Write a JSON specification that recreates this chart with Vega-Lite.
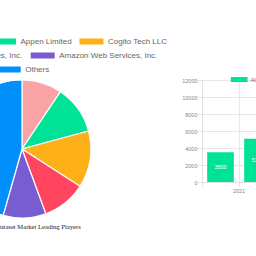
{
  "$schema": "https://vega.github.io/schema/vega-lite/v6.json",
  "autosize": {"type": "none"},
  "padding": {"left": 0, "top": 80, "right": 256, "bottom": 176},
  "background": "white",
  "config": {"view": {"stroke": null}},
  "bounds": "flush",
  "spacing": 158,
  "resolve": {"scale": {"color": "independent"}, "legend": {"color": "independent"}},
  "hconcat": [
    {
      "width": 44,
      "height": 138,
      "title": {"text": "AI Training Dataset Market Leading Players", "orient": "bottom", "frame": "group", "anchor": "middle", "font": "Liberation Serif", "fontSize": 6.6, "fontWeight": "normal", "color": "#222", "offset": 4},
      "data": {"values": [
        {"company": "Microsoft Corporation", "share": 9.4, "idx": 1},
        {"company": "Appen Limited", "share": 11.4, "idx": 2},
        {"company": "Cogito Tech LLC", "share": 13.3, "idx": 3},
        {"company": "Lionbridge Technologies, Inc.", "share": 10.3, "idx": 4},
        {"company": "Amazon Web Services, Inc.", "share": 10.0, "idx": 5},
        {"company": "Others", "share": 45.6, "idx": 6}
      ]},
      "resolve": {"scale": {"color": "independent"}, "legend": {"color": "independent"}},
      "layer": [
        {
          "mark": {"type": "arc", "outerRadius": 69, "stroke": "white", "strokeWidth": 1.2},
          "encoding": {
            "theta": {"field": "share", "type": "quantitative", "stack": true},
            "order": {"field": "idx", "type": "quantitative"},
            "color": {"field": "company", "type": "nominal",
              "scale": {"domain": ["Microsoft Corporation", "Appen Limited", "Cogito Tech LLC", "Lionbridge Technologies, Inc.", "Amazon Web Services, Inc.", "Others"], "range": ["#F9A3A4", "#00E396", "#FEB019", "#FF4560", "#775DD0", "#008FFB"]},
              "legend": {"orient": "none", "direction": "horizontal", "legendX": -120.5, "legendY": -50.5, "values": ["Microsoft Corporation", "Appen Limited", "Cogito Tech LLC"], "title": null, "symbolType": "M-1,-0.25H1V0.25H-1Z", "symbolSize": 576, "symbolStrokeWidth": 0, "labelFont": "Liberation Sans", "labelFontSize": 8, "labelColor": "#666", "labelOffset": 4.5, "columnPadding": 7.5, "padding": 0, "labelLimit": 300}}
          }
        },
        {
          "mark": {"type": "arc", "outerRadius": 69, "stroke": "white", "strokeWidth": 1.2},
          "encoding": {
            "theta": {"field": "share", "type": "quantitative", "stack": true},
            "order": {"field": "idx", "type": "quantitative"},
            "color": {"field": "company", "type": "nominal",
              "scale": {"domain": ["Microsoft Corporation", "Appen Limited", "Cogito Tech LLC", "Lionbridge Technologies, Inc.", "Amazon Web Services, Inc.", "Others"], "range": ["#F9A3A4", "#00E396", "#FEB019", "#FF4560", "#775DD0", "#008FFB"]},
              "legend": {"orient": "none", "direction": "horizontal", "legendX": -109.8, "legendY": -36.5, "values": ["Lionbridge Technologies, Inc.", "Amazon Web Services, Inc."], "title": null, "symbolType": "M-1,-0.25H1V0.25H-1Z", "symbolSize": 576, "symbolStrokeWidth": 0, "labelFont": "Liberation Sans", "labelFontSize": 8, "labelColor": "#666", "labelOffset": 4.5, "columnPadding": 7.5, "padding": 0, "labelLimit": 300}}
          }
        },
        {
          "mark": {"type": "arc", "outerRadius": 69, "stroke": "white", "strokeWidth": 1.2},
          "encoding": {
            "theta": {"field": "share", "type": "quantitative", "stack": true},
            "order": {"field": "idx", "type": "quantitative"},
            "color": {"field": "company", "type": "nominal",
              "scale": {"domain": ["Microsoft Corporation", "Appen Limited", "Cogito Tech LLC", "Lionbridge Technologies, Inc.", "Amazon Web Services, Inc.", "Others"], "range": ["#F9A3A4", "#00E396", "#FEB019", "#FF4560", "#775DD0", "#008FFB"]},
              "legend": {"orient": "none", "direction": "horizontal", "legendX": -3.3, "legendY": -22.5, "values": ["Others"], "title": null, "symbolType": "M-1,-0.25H1V0.25H-1Z", "symbolSize": 576, "symbolStrokeWidth": 0, "labelFont": "Liberation Sans", "labelFontSize": 8, "labelColor": "#666", "labelOffset": 4.5, "columnPadding": 7.5, "padding": 0, "labelLimit": 300}}
          }
        }
      ]
    },
    {
      "width": 74,
      "height": 102,
      "data": {"values": [
        {"year": "2021", "value": 3500, "series": "AI Training Dataset Market Size"},
        {"year": "2022", "value": 5100, "series": "AI Training Dataset Market Size"}
      ]},
      "layer": [
        {
          "mark": {"type": "bar", "width": {"band": 0.72}},
          "encoding": {
            "x": {"field": "year", "type": "ordinal", "scale": {"paddingInner": 0, "paddingOuter": 0},
              "axis": {"title": null, "labelAngle": 0, "bandPosition": 0, "labelOffset": 18.5, "grid": true, "gridColor": "#e8e8e8", "domainColor": "#e0e0e0", "tickColor": "#e0e0e0", "tickSize": 4, "labelFontSize": 5.5, "labelColor": "#888", "labelFont": "Liberation Sans", "labelPadding": 2}},
            "y": {"field": "value", "type": "quantitative", "scale": {"domain": [0, 12000], "nice": false},
              "axis": {"title": null, "tickCount": 6, "format": "d", "labelOverlap": false, "grid": true, "gridColor": "#e6e6e6", "domainColor": "#e0e0e0", "tickColor": "#e0e0e0", "tickSize": 4, "labelFontSize": 5.5, "labelColor": "#888", "labelFont": "Liberation Sans", "labelPadding": 1}},
            "color": {"field": "series", "type": "nominal", "scale": {"range": ["#00E396"]},
              "legend": {"orient": "none", "legendX": 28.7, "legendY": -9, "title": null, "symbolType": "M-1,-0.3H1V0.3H-1Z", "symbolSize": 279, "symbolStrokeWidth": 0, "labelFont": "Liberation Sans", "labelFontSize": 5.5, "labelColor": "#666", "labelOffset": 3, "padding": 0, "labelLimit": 300}}
          }
        },
        {
          "transform": [{"calculate": "datum.value / 2", "as": "labelPos"}],
          "mark": {"type": "text", "color": "white", "fontSize": 5.5, "font": "Liberation Sans", "baseline": "middle"},
          "encoding": {
            "x": {"field": "year", "type": "ordinal"},
            "y": {"field": "labelPos", "type": "quantitative"},
            "text": {"field": "value", "type": "quantitative", "format": "d"}
          }
        }
      ]
    }
  ]
}
